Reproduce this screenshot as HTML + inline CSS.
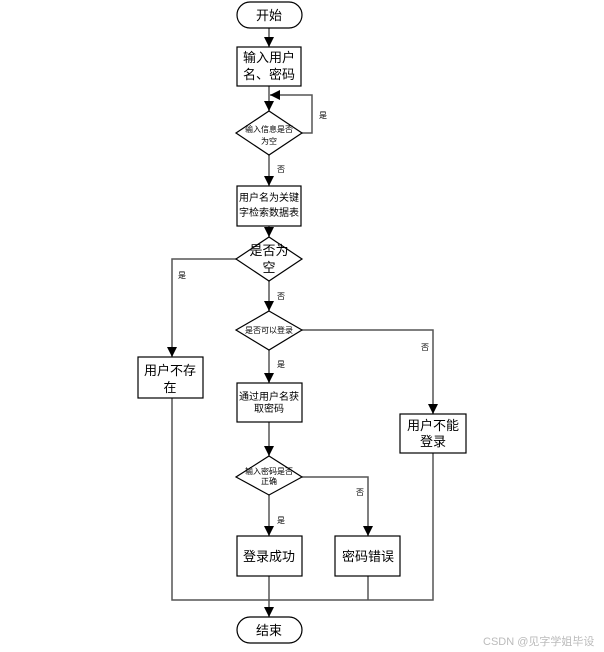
<!DOCTYPE html>
<html><head><meta charset="utf-8"><style>
html,body{margin:0;padding:0;background:#fff;}
svg{display:block;}
text{font-family:"Liberation Sans","Noto Sans CJK SC",sans-serif;fill:#000;}
</style></head><body>
<svg width="604" height="652" viewBox="0 0 604 652" xmlns="http://www.w3.org/2000/svg">
<defs><marker id="a" viewBox="0 0 10 10" refX="10" refY="5" markerWidth="10" markerHeight="10" markerUnits="userSpaceOnUse" orient="auto"><path d="M0,0 L10,5 L0,10z" fill="#000"/></marker></defs>
<g stroke="#555" stroke-width="1.5" fill="none">
<line x1="269" y1="28" x2="269" y2="47" marker-end="url(#a)"/>
<line x1="269" y1="86" x2="269" y2="111" marker-end="url(#a)"/>
<polyline points="302,133 312,133 312,95 270,95" marker-end="url(#a)"/>
<line x1="269" y1="155" x2="269" y2="186" marker-end="url(#a)"/>
<line x1="269" y1="226" x2="269" y2="237" marker-end="url(#a)"/>
<polyline points="237,259 172,259 172,357" marker-end="url(#a)"/>
<line x1="269" y1="281" x2="269" y2="311" marker-end="url(#a)"/>
<polyline points="302,330 433,330 433,414" marker-end="url(#a)"/>
<line x1="269" y1="350" x2="269" y2="383" marker-end="url(#a)"/>
<line x1="269" y1="422" x2="269" y2="456" marker-end="url(#a)"/>
<polyline points="302,477 368,477 368,536" marker-end="url(#a)"/>
<line x1="269" y1="495" x2="269" y2="536" marker-end="url(#a)"/>
<polyline points="172,398 172,600 433,600 433,453"/>
<line x1="368" y1="576" x2="368" y2="600"/>
<line x1="269" y1="576" x2="269" y2="617" marker-end="url(#a)"/>
</g>
<g stroke="#000" stroke-width="1.2" fill="#fff">
<rect x="237" y="2" width="65" height="26" rx="13"/>
<rect x="237" y="47" width="64" height="39"/>
<polygon points="269,111 302,133 269,155 236,133"/>
<rect x="237" y="186" width="64" height="40"/>
<polygon points="269,237 302,259 269,281 236,259"/>
<rect x="138" y="357" width="65" height="41"/>
<polygon points="269,311 302,330 269,350 236,330"/>
<rect x="237" y="383" width="65" height="39"/>
<rect x="400" y="414" width="66" height="39"/>
<polygon points="269,456 302,477 269,495 236,477"/>
<rect x="237" y="536" width="65" height="40"/>
<rect x="335" y="536" width="65" height="40"/>
<rect x="237" y="617" width="65" height="26" rx="13"/>
</g>
<g text-anchor="middle">
<text x="269" y="20" font-size="13">开始</text>
<text x="269" y="62" font-size="13">输入用户</text>
<text x="269" y="79" font-size="13">名、密码</text>
<text x="269" y="132" font-size="8">输入信息是否</text>
<text x="269" y="144" font-size="8">为空</text>
<text x="269" y="201" font-size="10">用户名为关键</text>
<text x="269" y="216" font-size="10">字检索数据表</text>
<text x="269" y="255" font-size="13">是否为</text>
<text x="269" y="272" font-size="13">空</text>
<text x="170" y="375" font-size="13">用户不存</text>
<text x="170" y="392" font-size="13">在</text>
<text x="269" y="333" font-size="8">是否可以登录</text>
<text x="269" y="400" font-size="10">通过用户名获</text>
<text x="269" y="412" font-size="10">取密码</text>
<text x="433" y="430" font-size="13">用户不能</text>
<text x="433" y="446" font-size="13">登录</text>
<text x="269" y="474" font-size="8">输入密码是否</text>
<text x="269" y="484" font-size="8">正确</text>
<text x="269" y="561" font-size="13">登录成功</text>
<text x="368" y="561" font-size="13">密码错误</text>
<text x="269" y="635" font-size="13">结束</text>
</g>
<g font-size="8">
<text x="319" y="118">是</text>
<text x="277" y="172">否</text>
<text x="178" y="278">是</text>
<text x="277" y="299">否</text>
<text x="421" y="350">否</text>
<text x="277" y="367">是</text>
<text x="356" y="495">否</text>
<text x="277" y="523">是</text>
</g>
<text x="483" y="645" font-size="11" fill="#bbb" style="fill:#bbb">CSDN @见字学姐毕设</text>
</svg>
</body></html>
